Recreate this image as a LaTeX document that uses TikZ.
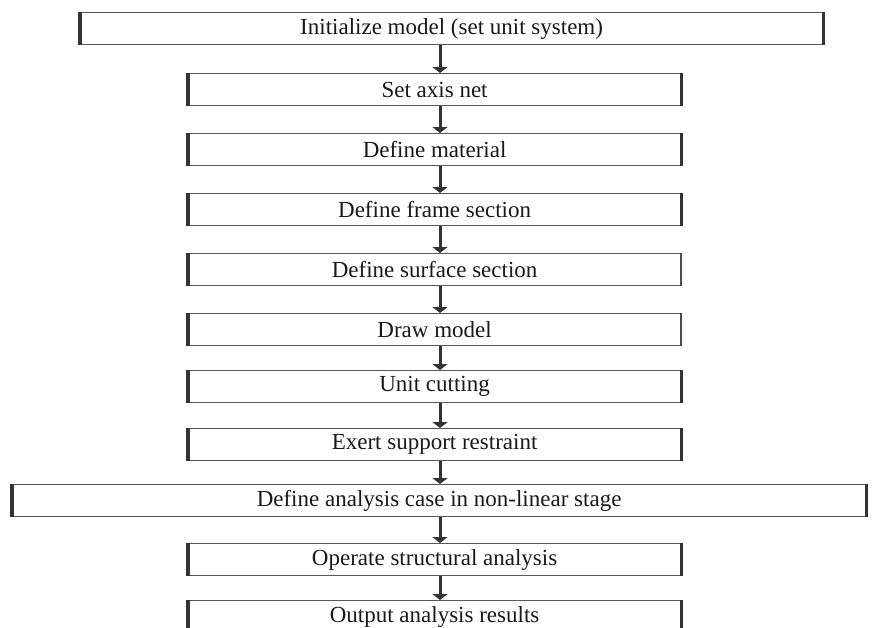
\documentclass[tikz,border=0pt]{standalone}
\usepackage{fontspec}
\setmainfont{Liberation Serif}
\usetikzlibrary{arrows.meta}
\begin{document}
\begin{tikzpicture}[x=1pt,y=-1pt,
 box/.style={draw=black!65, line width=1.2pt, rectangle, minimum height=32pt, inner sep=0pt, anchor=north west, font=\fontsize{23}{26}\selectfont, text=black!90},
 side/.style={line width=3.4pt, draw=black!80},
 thinside/.style={line width=1.6pt, draw=black!70},
 flow/.style={line width=3pt, draw=black!80, -{Triangle[width=15pt,length=6pt]}}]
\useasboundingbox (0,0) rectangle (873,627);
\clip (0,0) rectangle (873,627);
\coordinate (ax) at (440,0);
\node[box, minimum width=742pt] (b1) at (80,12) {Initialize model (set unit system)};
\node[box, minimum width=492pt] (b2) at (188,73) {Set axis net};
\node[box, minimum width=492pt] (b3) at (188,133) {Define material};
\node[box, minimum width=492pt] (b4) at (188,193) {Define frame section};
\node[box, minimum width=492pt] (b5) at (188,253) {Define surface section};
\node[box, minimum width=492pt] (b6) at (188,313) {Draw model};
\node[box, minimum width=492pt] (b7) at (188,370) {Unit cutting};
\node[box, minimum width=492pt] (b8) at (188,428) {Exert support restraint};
\node[box, minimum width=853pt] (b9) at (12,484) {Define analysis case in non-linear stage};
\node[box, minimum width=492pt] (b10) at (188,543) {Operate structural analysis};
\node[box, minimum width=492pt] (b11) at (188,600) {Output analysis results};
\foreach \n in {b1,b2,b3,b4,b7,b8,b9,b10,b11}{
  \draw[side] (\n.north west) -- (\n.south west);
  \draw[side] (\n.north east) -- (\n.south east);
}
\foreach \n in {b5,b6}{
  \draw[side] (\n.north west) -- (\n.south west);
  \draw[thinside] (\n.north east) -- (\n.south east);
}
\foreach \a/\b in {b1/b2,b2/b3,b3/b4,b4/b5,b5/b6,b6/b7,b7/b8,b8/b9,b9/b10,b10/b11}{
  \draw[flow] (\a.south -| ax) -- (\b.north -| ax);
}
\end{tikzpicture}
\end{document}
